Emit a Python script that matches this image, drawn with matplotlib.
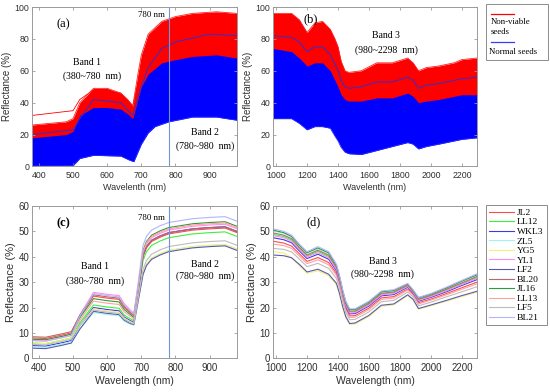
import matplotlib
matplotlib.use("Agg")
import matplotlib.pyplot as plt
from matplotlib.lines import Line2D
from matplotlib.patches import Rectangle

# ---- panel (a): envelopes of the 380-980 nm spectra ----
wl_a = [380, 480, 500, 520, 560, 600, 640, 660, 675, 690, 700, 720, 760, 800, 850, 920, 980]
red_top_a = [26, 28, 30, 40, 49, 49, 46, 42, 38, 58, 70, 83, 91, 94, 96, 97, 96]
blue_top_a = [18, 20, 22, 32, 37, 37, 36, 33, 30, 42, 50, 58, 65, 67, 69, 70, 68]
wl_a_low = [380, 500, 520, 560, 640, 665, 678, 700, 720, 740, 780, 850, 920, 980]
blue_low_a = [0.3, 0.5, 5, 7, 6.5, 4, 3, 14, 21, 25, 28, 31, 31, 29]
wl_a_out = [380, 500, 520, 560, 640, 675, 700, 720, 760, 800, 900, 980]
red_out_a = [32, 35, 42, 48, 46, 38, 62, 80, 90, 93, 96, 95]
blue_line_a = [20, 23, 30, 42, 40, 32, 50, 62, 74, 78, 83, 82]

# ---- panel (b): envelopes of the 980-2298 nm spectra ----
wl_b = [980, 1100, 1150, 1200, 1250, 1300, 1350, 1380, 1400, 1420, 1445, 1470, 1550, 1650,
        1750, 1850, 1885, 1920, 1970, 2050, 2150, 2200, 2298]
red_top_b = [96, 96, 92, 84, 90, 91, 86, 80, 75, 66, 60, 59, 60, 65, 65, 68, 65, 60, 62, 63, 65, 67, 68]
blue_top_b = [74, 72, 68, 63, 65, 65, 60, 54, 50, 45, 42, 41, 41, 43, 43, 46, 44, 40, 41, 42, 44, 45, 45]
blue_low_b = [30, 30, 27, 23, 25, 25, 24, 19, 16, 12, 9, 8, 7.5, 10, 12.5, 15, 14, 11, 12.5, 14, 16, 17, 18]
blue_line_b = [82, 81, 78, 72, 75, 75, 70, 64, 60, 54, 50, 49, 50, 53, 53, 56, 54, 49, 51, 52, 54, 55, 56]

# ---- panel (c): mean spectra per variety, 380-980 nm ----
varieties = ['JL2', 'LL12', 'WKL3', 'ZL5', 'YG5', 'YL1', 'LF2', 'BL20', 'JL16', 'LL13', 'LF5', 'BL21']
colors = ['#ff4a4a', '#3cf03c', '#3a3ae6', '#9ff5f5', '#f5f07a', '#ff8cf0', '#5a5ab0',
          '#b86a6a', '#2e9a3a', '#ffa0a0', '#bdbdbd', '#b4b4ff']
wl_c = [380, 420, 470, 495, 520, 560, 600, 635, 650, 668, 678, 690, 705, 715, 730, 755, 780, 850, 900, 945, 980]
c_JL2 = [8, 7.8, 9.2, 10, 16.5, 24.5, 23.7, 23.2, 20, 17.8, 16.7, 26.5, 40, 43.5, 46, 47.7, 49, 50.5, 51, 51.3, 49.5]
c_LL12 = [6, 5.8, 7.2, 8, 14, 21, 20.2, 19.7, 17, 15.5, 14.8, 24.5, 38.5, 42, 44.5, 46.2, 47.5, 49, 49.5, 49.8, 48]
c_WKL3 = [5, 4.8, 6.2, 7, 13, 20, 19.2, 18.7, 16.2, 14.8, 14.2, 24.5, 40.5, 44, 46.5, 48.2, 49.5, 51, 51.5, 51.8, 50]
c_ZL5 = [4.5, 4.3, 5.7, 6.5, 11.5, 18, 17.2, 16.7, 14.6, 13.4, 13, 22, 33.5, 37, 39.5, 41.2, 42.5, 44, 44.5, 44.8, 43]
c_YG5 = [6, 5.8, 7.2, 8, 13, 19.5, 18.7, 18.2, 15.8, 14.4, 13.9, 22.5, 33.5, 37, 39.5, 41.2, 42.5, 44, 44.5, 44.8, 43]
c_YL1 = [7.5, 7.3, 8.7, 9.5, 17, 26, 25.2, 24.7, 21.5, 19, 17.7, 28, 41.5, 45, 47.5, 49.2, 50.5, 52, 52.5, 52.8, 51]
c_LF2 = [4, 3.8, 5.2, 6, 11.5, 18.5, 17.7, 17.2, 15, 13.7, 13.3, 22, 33, 36.5, 39, 40.7, 42, 43.5, 44, 44.3, 42.5]
c_BL20 = [8.5, 8.3, 9.7, 10.5, 17, 25, 24.2, 23.7, 20.5, 18.2, 17, 27, 40.5, 44, 46.5, 48.2, 49.5, 51, 51.5, 51.8, 50]
c_JL16 = [7.5, 7.3, 8.7, 9.5, 16, 23.5, 22.7, 22.2, 19.2, 17.2, 16.1, 26.5, 42.5, 46, 48.5, 50.2, 51.5, 53, 53.5, 53.8, 52]
c_LL13 = [7, 6.8, 8.2, 9, 15, 22.5, 21.7, 21.2, 18.3, 16.5, 15.5, 26, 42, 45.5, 48, 49.7, 51, 52.5, 53, 53.3, 51.5]
c_LF5 = [5.5, 5.3, 6.7, 7.5, 12.8, 19, 18.2, 17.7, 15.4, 14.1, 13.6, 23, 35, 38.5, 41, 42.7, 44, 45.5, 46, 46.3, 44.5]
c_BL21 = [7, 6.8, 8.2, 9, 16.5, 25.5, 24.7, 24.2, 21, 18.6, 17.4, 29, 44.5, 48, 50.5, 52.2, 53.5, 55, 55.5, 55.8, 54]

# ---- panel (d): mean spectra per variety, 980-2298 nm ----
wl_d = [980, 1050, 1100, 1150, 1200, 1270, 1340, 1390, 1410, 1430, 1450, 1475, 1510, 1600, 1680,
        1760, 1850, 1885, 1920, 2000, 2100, 2200, 2298]
d_JL2 = [46.1, 45.4, 44.2, 41.2, 38.2, 39.7, 37.7, 33.4, 29.1, 23.9, 19.6, 16.7, 16.8, 19.8, 23.8, 24.3, 27.3, 25.2, 21.9, 23.3, 25.5, 27.8, 30.0]
d_LL12 = [48.8, 48.0, 46.6, 43.3, 40.3, 42.1, 40.1, 35.4, 31.0, 25.6, 21.2, 18.3, 18.3, 21.3, 25.3, 25.8, 28.5, 26.2, 23.1, 24.5, 26.9, 29.4, 31.8]
d_WKL3 = [47.5, 46.7, 45.5, 42.3, 39.3, 41.0, 39.0, 34.4, 30.1, 24.8, 20.4, 17.5, 17.6, 20.6, 24.6, 25.1, 28.0, 25.7, 22.5, 24.0, 26.2, 28.7, 31.0]
d_ZL5 = [50.1, 49.2, 47.7, 44.3, 41.3, 43.2, 41.2, 36.4, 31.9, 26.4, 22.0, 19.0, 19.0, 22.0, 26.0, 26.5, 29.1, 26.7, 23.6, 25.1, 27.6, 30.2, 32.7]
d_YG5 = [42, 41.5, 39.5, 36.5, 33.5, 34.5, 32.5, 29, 25.0, 20, 16.0, 13.3, 13.5, 16.5, 20.5, 21, 24.7, 23, 19.3, 20.7, 22.5, 24.3, 26]
d_YL1 = [48.3, 47.5, 46.1, 42.9, 39.9, 41.6, 39.6, 35.0, 30.6, 25.3, 20.9, 17.9, 18.0, 21.0, 25.0, 25.5, 28.3, 26.0, 22.8, 24.3, 26.6, 29.1, 31.5]
d_LF2 = [40.7, 40.4, 39.6, 37.0, 34.0, 35.1, 33.1, 29.5, 25.5, 20.4, 16.4, 13.7, 13.9, 16.9, 20.9, 21.4, 25.0, 23.2, 19.6, 21.0, 22.8, 24.7, 26.4]
d_BL20 = [49.4, 48.5, 47.1, 43.7, 40.7, 42.6, 40.6, 35.8, 31.4, 26.0, 21.5, 18.6, 18.6, 21.6, 25.6, 26.1, 28.8, 26.4, 23.3, 24.8, 27.2, 29.7, 32.2]
d_JL16 = [50.5, 49.5, 48.0, 44.6, 41.6, 43.5, 41.5, 36.6, 32.1, 26.7, 22.2, 19.2, 19.2, 22.2, 26.2, 26.7, 29.3, 26.8, 23.8, 25.3, 27.7, 30.4, 32.9]
d_LL13 = [45.0, 44.4, 43.3, 40.3, 37.3, 38.8, 36.8, 32.6, 28.4, 23.2, 18.9, 16.1, 16.2, 19.2, 23.2, 23.7, 26.9, 24.8, 21.4, 22.9, 25.0, 27.2, 29.3]
d_LF5 = [43.3, 42.9, 41.9, 39.1, 36.1, 37.4, 35.4, 31.4, 27.3, 22.1, 18.0, 15.2, 15.3, 18.3, 22.3, 22.8, 26.1, 24.2, 20.7, 22.1, 24.2, 26.2, 28.2]
d_BL21 = [51, 50, 48.5, 45, 42, 44, 42, 37, 32.5, 27, 22.5, 19.5, 19.5, 22.5, 26.5, 27, 29.5, 27, 24, 25.5, 28, 30.7, 33.3]

curves_c = [c_JL2, c_LL12, c_WKL3, c_ZL5, c_YG5, c_YL1, c_LF2, c_BL20, c_JL16, c_LL13, c_LF5, c_BL21]
curves_d = [d_JL2, d_LL12, d_WKL3, d_ZL5, d_YG5, d_YL1, d_LF2, d_BL20, d_JL16, d_LL13, d_LF5, d_BL21]

SANS = 'Liberation Sans'
SERIF = 'Liberation Serif'
GRID_GRAY = '#9a9a9a'
TXT = '#303030'
VLINE = '#6f93dc'


def style_axes(ax, tick_size):
    for s in ax.spines.values():
        s.set_color(GRID_GRAY)
        s.set_linewidth(0.7)
    ax.tick_params(direction='in', length=2.5, width=0.6, color=GRID_GRAY,
                   labelsize=tick_size, labelcolor=TXT, top=True, right=True, pad=2)
    ax.tick_params(axis='x', pad=3.5)
    for lab in ax.get_xticklabels() + ax.get_yticklabels():
        lab.set_family(SANS)


fig = plt.figure(figsize=(5.5, 3.92), dpi=100)
ax_a = fig.add_axes([0.0582, 0.5753, 0.3727, 0.4068])
ax_b = fig.add_axes([0.4964, 0.5753, 0.3709, 0.4068])
ax_c = fig.add_axes([0.0582, 0.0860, 0.3727, 0.3885])
ax_d = fig.add_axes([0.4964, 0.0860, 0.3709, 0.3885])

# (a)
ax_a.fill_between(wl_a, [v - 6 for v in blue_top_a], red_top_a, color='#ff0000', lw=0)
ax_a.plot(wl_a_out, red_out_a, color='#ff0000', lw=0.6)
ax_a.plot(wl_a, red_top_a, color='#ff2020', lw=0.6)
ax_a.fill_between(wl_a, 0, blue_top_a, color='#0000ff', lw=0)
ax_a.fill_between(wl_a_low, 0, blue_low_a, color='white', lw=0)
ax_a.plot(wl_a_low, blue_low_a, color='#2a2aff', lw=0.6)
ax_a.plot(wl_a_out, blue_line_a, color='#3030d0', lw=0.7)
ax_a.axvline(780, color=VLINE, lw=0.8)
ax_a.set_xlim(380, 980)
ax_a.set_ylim(0, 100)
ax_a.set_xticks(range(400, 901, 100))
ax_a.set_yticks(range(0, 101, 20))
ax_a.set_xlabel('Wavelenth (nm)', family=SANS, fontsize=6.5, color=TXT, labelpad=2)
ax_a.set_ylabel('Reflectance (%)', family=SANS, fontsize=7, color=TXT, labelpad=2)
style_axes(ax_a, 6.3)
ax_a.text(471, 89, '(a)', family=SERIF, fontsize=9, ha='center', va='center')
ax_a.text(540, 65, 'Band 1', family=SERIF, fontsize=7, ha='center', va='center')
ax_a.text(556, 56.5, '(380~780  nm)', family=SERIF, fontsize=7, ha='center', va='center')
ax_a.text(731, 95, '780 nm', family=SERIF, fontsize=6.3, ha='center', va='center')
ax_a.text(886, 21, 'Band 2', family=SERIF, fontsize=7, ha='center', va='center')
ax_a.text(886, 13, '(780~980  nm)', family=SERIF, fontsize=7, ha='center', va='center')

# (b)
ax_b.fill_between(wl_b, [v - 6 for v in blue_top_b], red_top_b, color='#ff0000', lw=0)
ax_b.plot(wl_b, red_top_b, color='#ff2020', lw=0.6)
ax_b.fill_between(wl_b, blue_low_b, blue_top_b, color='#0000ff', lw=0)
ax_b.plot(wl_b, blue_low_b, color='#2a2aff', lw=0.6)
ax_b.plot(wl_b, blue_line_b, color='#3030d0', lw=0.7)
ax_b.set_xlim(980, 2298)
ax_b.set_ylim(0, 100)
ax_b.set_xticks(range(1000, 2201, 200))
ax_b.set_yticks(range(0, 101, 20))
ax_b.set_xlabel('Wavelenth (nm)', family=SANS, fontsize=6.5, color=TXT, labelpad=2)
ax_b.set_ylabel('Reflectance (%)', family=SANS, fontsize=7, color=TXT, labelpad=2)
style_axes(ax_b, 6.3)
ax_b.text(1225, 92, '(b)', family=SERIF, fontsize=9, ha='center', va='center')
ax_b.text(1712, 82, 'Band 3', family=SERIF, fontsize=7, ha='center', va='center')
ax_b.text(1716, 73, '(980~2298  nm)', family=SERIF, fontsize=7, ha='center', va='center')

# (c)
for vals, col in zip(curves_c, colors):
    ax_c.plot(wl_c, vals, color=col, lw=0.8)
ax_c.axvline(780, color=VLINE, lw=0.8)
ax_c.set_xlim(380, 980)
ax_c.set_ylim(0, 60)
ax_c.set_xticks(range(400, 901, 100))
ax_c.set_yticks(range(0, 61, 10))
ax_c.set_xlabel('Wavelength (nm)', family=SANS, fontsize=7.5, color=TXT, labelpad=2)
ax_c.set_ylabel('Reflectance (%)', family=SANS, fontsize=8, color=TXT, labelpad=2)
style_axes(ax_c, 7)
ax_c.text(471, 53, '(c)', family=SERIF, fontsize=9, fontweight='bold', ha='center', va='center')
ax_c.text(564, 36, 'Band 1', family=SERIF, fontsize=7, ha='center', va='center')
ax_c.text(564, 30.5, '(380~780  nm)', family=SERIF, fontsize=7, ha='center', va='center')
ax_c.text(731, 55.4, '780 nm', family=SERIF, fontsize=6.3, ha='center', va='center')
ax_c.text(886, 37, 'Band 2', family=SERIF, fontsize=7, ha='center', va='center')
ax_c.text(886, 32.3, '(780~980  nm)', family=SERIF, fontsize=7, ha='center', va='center')

# (d)
for vals, col, name in zip(curves_d, colors, varieties):
    ax_d.plot(wl_d, vals, color=col, lw=0.8, label=name)
ax_d.set_xlim(980, 2298)
ax_d.set_ylim(0, 60)
ax_d.set_xticks(range(1000, 2201, 200))
ax_d.set_yticks(range(0, 61, 10))
ax_d.set_xlabel('Wavelength (nm)', family=SANS, fontsize=7.5, color=TXT, labelpad=2)
ax_d.set_ylabel('Reflectance (%)', family=SANS, fontsize=8, color=TXT, labelpad=2)
style_axes(ax_d, 7)
ax_d.text(1245, 53.4, '(d)', family=SERIF, fontsize=9, ha='center', va='center')
ax_d.text(1690, 38, 'Band 3', family=SERIF, fontsize=7, ha='center', va='center')
ax_d.text(1690, 33, '(980~2298  nm)', family=SERIF, fontsize=7, ha='center', va='center')

leg = fig.legend(handles=ax_d.get_lines(), loc='upper left',
                 bbox_to_anchor=(486 / 550, 1 - 205 / 392),
                 prop={'family': SERIF, 'size': 6.8}, handlelength=2.6,
                 handletextpad=0.3, labelspacing=0.1, borderpad=0.35,
                 borderaxespad=0, fancybox=False, framealpha=1)
leg.get_frame().set_edgecolor('#8c8c8c')
leg.get_frame().set_linewidth(0.7)

# legend of (a)/(b), drawn by hand to keep the line-above-text look
fig.patches.append(Rectangle((486 / 550, 1 - 60 / 392), 62 / 550, 56 / 392,
                             transform=fig.transFigure, facecolor='white',
                             edgecolor='#8c8c8c', lw=0.7))
fig.lines.append(Line2D([491 / 550, 514 / 550], [1 - 14 / 392] * 2,
                        transform=fig.transFigure, color='#ff0000', lw=0.9))
fig.text(491 / 550, 1 - 22 / 392, 'Non-viable', family=SERIF, fontsize=6.3, va='center')
fig.text(491 / 550, 1 - 32 / 392, 'seeds', family=SERIF, fontsize=6.3, va='center')
fig.lines.append(Line2D([491 / 550, 514 / 550], [1 - 42 / 392] * 2,
                        transform=fig.transFigure, color='#3a3aff', lw=0.9))
fig.text(489 / 550, 1 - 52 / 392, 'Normal seeds', family=SERIF, fontsize=6.3, va='center')

fig.savefig('out.png', dpi=100)
